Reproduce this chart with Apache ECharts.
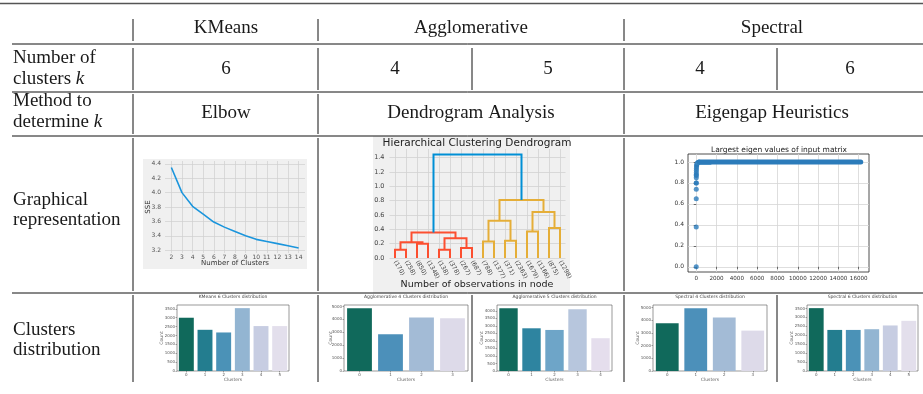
<!DOCTYPE html>
<html>
<head>
<meta charset="utf-8">
<script src="https://cdn.jsdelivr.net/npm/echarts@6/dist/echarts.min.js"></script>
<style>
  html, body { margin: 0; padding: 0; background: #fff; }
  #chart { width: 923px; height: 394px; }
</style>
</head>
<body>
<div id="chart"></div>
<script>
// ---- table text ----
const headerMethods = ['KMeans', 'Agglomerative', 'Spectral'];
const clusterNumbers = ['6', '4', '5', '4', '6'];
const determineMethods = ['Elbow', 'Dendrogram Analysis', 'Eigengap Heuristics'];
const rowLabels = [
  ['Number of', 'clusters {i|k}'],
  ['Method to', 'determine {i|k}'],
  ['Graphical', 'representation'],
  ['Clusters', 'distribution']
];

// ---- elbow curve (KMeans) ----
const elbowK = [2, 3, 4, 5, 6, 7, 8, 9, 10, 11, 12, 13, 14];
const elbowSSE = [4.35, 4.00, 3.81, 3.70, 3.59, 3.52, 3.46, 3.40, 3.35, 3.32, 3.29, 3.26, 3.23];
const elbowYTicks = [3.2, 3.4, 3.6, 3.8, 4.0, 4.2, 4.4];

// ---- dendrogram (Agglomerative) ----
const leafLabels = ['(170)', '(258)', '(850)', '(1348)', '(138)', '(378)', '(267)', '(687)',
  '(788)', '(1377)', '(371)', '(2363)', '(1679)', '(1166)', '(875)', '(1298)'];
// [left node, right node, merge height, colour group]; leaves are 0..15, merges become 16, 17, ...
const dendroMerges = [
  [0, 1, 0.115, 0], [2, 3, 0.20, 0], [16, 17, 0.22, 0],
  [4, 5, 0.115, 0], [6, 7, 0.14, 0], [19, 20, 0.275, 0], [18, 21, 0.355, 0],
  [8, 9, 0.23, 1], [10, 11, 0.24, 1], [23, 24, 0.52, 1],
  [12, 13, 0.37, 1], [14, 15, 0.42, 1], [26, 27, 0.64, 1], [25, 28, 0.81, 1],
  [22, 29, 1.445, 2]
];
const dendroYTicks = [0, 0.2, 0.4, 0.6, 0.8, 1.0, 1.2, 1.4];
const dendroColors = ['#fc4f30', '#e5ae38', '#008fd5'];

// ---- eigenvalues (Spectral) ----
const eigenHead = [[0, 0.0], [1, 0.38], [2, 0.65], [3, 0.74], [4, 0.80], [5, 0.80], [6, 0.85],
  [7, 0.87], [8, 0.88], [10, 0.90], [14, 0.92], [20, 0.94], [30, 0.96], [45, 0.97],
  [70, 0.98], [110, 0.99], [180, 0.995], [260, 1.0]];
const eigenPlateau = [[300, 1.0], [16200, 1.0]];
const eigenShoulder = [[0, 0.985], [1400, 0.985]];
const eigenXTicks = [0, 2000, 4000, 6000, 8000, 10000, 12000, 14000, 16000];
const eigenYTicks = [0, 0.2, 0.4, 0.6, 0.8, 1.0];

// ---- cluster size distributions ----
const kmeans6Labels = ['0', '1', '2', '3', '4', '5'];
const kmeans6Counts = [3000, 2320, 2170, 3540, 2530, 2530];
const kmeans6Ticks = [0, 500, 1000, 1500, 2000, 2500, 3000, 3500];

const agglo4Labels = ['0', '1', '2', '3'];
const agglo4Counts = [4870, 2850, 4150, 4090];
const agglo4Ticks = [0, 1000, 2000, 3000, 4000, 5000];

const agglo5Labels = ['0', '1', '2', '3', '4'];
const agglo5Counts = [4180, 2840, 2730, 4110, 2180];
const agglo5Ticks = [0, 500, 1000, 1500, 2000, 2500, 3000, 3500, 4000];

const spectral4Labels = ['0', '1', '2', '3'];
const spectral4Counts = [3760, 4950, 4210, 3180];
const spectral4Ticks = [0, 1000, 2000, 3000, 4000, 5000];

const spectral6Labels = ['0', '1', '2', '3', '4', '5'];
const spectral6Counts = [3520, 2300, 2300, 2340, 2550, 2810];
const spectral6Ticks = [0, 500, 1000, 1500, 2000, 2500, 3000, 3500];

const barTitles = ['KMeans 6 Clusters distribution', 'Agglomerative 4 Clusters distribution',
  'Agglomerative 5 Clusters distribution', 'Spectral 4 Clusters distribution',
  'Spectral 6 Clusters distribution'];

const palette6 = ['#10695b', '#237d8f', '#4b92b7', '#93b5d2', '#c7cde2', '#e3dfec'];
const palette4 = ['#10695b', '#4c90ba', '#a3bbd6', '#dddae9'];
const palette5 = ['#10695b', '#2e84a0', '#6ea5c8', '#b7c6dd', '#e5deed'];

// ---------------------------------------------------------------
const serif = 'Liberation Serif, DejaVu Serif, serif';
const sans = 'DejaVu Sans, sans-serif';
const FS = 19;
const plain = v => String(v);

const graphics = [];
function hline(x1, x2, y, w, c) {
  graphics.push({ type: 'line', z: 50, shape: { x1: x1, y1: y, x2: x2, y2: y },
    style: { stroke: c || '#111', lineWidth: w || 1 } });
}
function vline(x, y1, y2) {
  graphics.push({ type: 'line', z: 50, shape: { x1: x, y1: y1, x2: x, y2: y2 },
    style: { stroke: '#111', lineWidth: 1 } });
}
function text(str, x, y, opt) {
  opt = opt || {};
  graphics.push({
    type: 'text', z: 50, x: x, y: y, rotation: opt.rotation || 0,
    style: {
      text: str, fill: opt.color || '#1a1a1a',
      font: (opt.weight || 'normal') + ' ' + (opt.size || FS) + 'px ' + (opt.family || serif),
      align: opt.align || 'center', verticalAlign: 'middle',
      rich: { i: { fontStyle: 'italic', fontSize: opt.size || FS, fontFamily: opt.family || serif, fill: opt.color || '#1a1a1a' } }
    }
  });
}
function rect(x, y, w, h, c) {
  graphics.push({ type: 'rect', z: -10, shape: { x: x, y: y, width: w, height: h }, style: { fill: c } });
}

// rules
hline(0, 923, 3.5, 1.6, '#555');
hline(12, 923, 44);
hline(12, 923, 92);
hline(12, 923, 136);
hline(12, 923, 293);

// vertical rules per row
[133, 318, 624].forEach(x => vline(x, 19, 41));
[133, 318, 472, 624, 777].forEach(x => vline(x, 48, 90));
[133, 318, 624].forEach(x => vline(x, 94, 134));
[133, 318, 624].forEach(x => vline(x, 138, 291));
[133, 318, 472, 624, 777].forEach(x => vline(x, 295, 382));

// header
const headerX = [226, 471, 772];
headerMethods.forEach((t, i) => text(t, headerX[i], 28));
const numX = [226, 395, 548, 700, 850];
clusterNumbers.forEach((t, i) => text(t, numX[i], 69));
determineMethods.forEach((t, i) => text(t, headerX[i], 113));
const rowLabelY = [[58, 79], [101, 122], [200, 220], [330, 350]];
rowLabels.forEach((pair, r) => {
  text(pair[0], 13, rowLabelY[r][0], { align: 'left' });
  text(pair[1], 13, rowLabelY[r][1], { align: 'left' });
});

// panel backgrounds and chart captions
rect(143, 159, 164, 110, '#f0f0f0');
text('Number of Clusters', 235, 263.5, { size: 7, family: sans, color: '#333' });
text('SSE', 148, 207, { size: 7, family: sans, color: '#333', rotation: Math.PI / 2 });

rect(373, 136, 197, 157, '#f0f0f0');
text('Hierarchical Clustering Dendrogram', 477, 143, { size: 10.5, family: sans, color: '#222' });
text('Number of observations in node', 477, 285, { size: 9.5, family: sans, color: '#222' });

text('Largest eigen values of input matrix', 779, 150, { size: 7.5, family: sans, color: '#222' });

// ---- build the cluster-size bar charts ----
const barLayouts = [
  { left: 177, width: 112, nameX: 162 },
  { left: 344, width: 124, nameX: 331 },
  { left: 497, width: 115, nameX: 482 },
  { left: 653, width: 114, nameX: 638 },
  { left: 807, width: 111, nameX: 792 }
];
const barData = [
  [kmeans6Labels, kmeans6Counts, kmeans6Ticks, palette6],
  [agglo4Labels, agglo4Counts, agglo4Ticks, palette4],
  [agglo5Labels, agglo5Counts, agglo5Ticks, palette5],
  [spectral4Labels, spectral4Counts, spectral4Ticks, palette4],
  [spectral6Labels, spectral6Counts, spectral6Ticks, palette6]
];

const grids = [
  { left: 165, top: 161, width: 140, height: 92 },       // elbow
  { left: 389.5, top: 149, width: 176, height: 109 },    // dendrogram
  { left: 688, top: 154, width: 181, height: 118, show: true, borderColor: '#222', borderWidth: 0.8, backgroundColor: '#fff' } // eigen
];
const xAxes = [
  { gridIndex: 0, type: 'value', min: 1.4, max: 14.6,
    axisLine: { show: false }, axisTick: { show: false, customValues: elbowK },
    axisLabel: { customValues: elbowK, formatter: plain, fontSize: 6, color: '#555', margin: 1.5, fontFamily: sans },
    splitLine: { lineStyle: { color: '#cfcfcf', width: 0.7 } } },
  { gridIndex: 1, type: 'value', min: -0.5, max: 15.5,
    axisLine: { show: false }, axisTick: { show: false, customValues: leafLabels.map((_, i) => i) },
    axisLabel: { customValues: leafLabels.map((_, i) => i), formatter: v => leafLabels[v],
      rotate: -60, fontSize: 6, color: '#444', margin: 3, fontFamily: sans },
    splitLine: { lineStyle: { color: '#d2d2d2', width: 0.8 } } },
  { gridIndex: 2, type: 'value', min: -810, max: 17010,
    axisLine: { show: false }, axisTick: { show: true, length: 2.5, customValues: eigenXTicks, lineStyle: { color: '#333', width: 0.7 } },
    axisLabel: { customValues: eigenXTicks, formatter: plain, fontSize: 5.6, color: '#333', margin: 4,
      fontFamily: sans, hideOverlap: false, showMinLabel: true, showMaxLabel: true },
    splitLine: { lineStyle: { color: '#d6d6d6', width: 0.8 } } }
];
const yAxes = [
  { gridIndex: 0, type: 'value', min: 3.16, max: 4.44,
    axisLine: { show: false }, axisTick: { show: false, customValues: elbowYTicks },
    axisLabel: { customValues: elbowYTicks, formatter: v => v.toFixed(1), fontSize: 6, color: '#555', margin: 4, fontFamily: sans },
    splitLine: { lineStyle: { color: '#cfcfcf', width: 0.7 } } },
  { gridIndex: 1, type: 'value', min: 0, max: 1.52,
    axisLine: { show: false }, axisTick: { show: false, customValues: dendroYTicks },
    axisLabel: { customValues: dendroYTicks, formatter: v => v.toFixed(1), fontSize: 6.5, color: '#444', margin: 5, fontFamily: sans },
    splitLine: { lineStyle: { color: '#d2d2d2', width: 0.8 } } },
  { gridIndex: 2, type: 'value', min: -0.05, max: 1.076,
    axisLine: { show: false }, axisTick: { show: true, length: 2.5, customValues: eigenYTicks, lineStyle: { color: '#333', width: 0.7 } },
    axisLabel: { customValues: eigenYTicks, formatter: v => v.toFixed(1), fontSize: 6, color: '#333', margin: 4, fontFamily: sans },
    splitLine: { lineStyle: { color: '#d6d6d6', width: 0.8 } } }
];

// dendrogram node positions from the merge list
const nodeX = leafLabels.map((_, i) => i);
const nodeY = leafLabels.map(() => 0);
const dendroSegs = dendroMerges.map(m => {
  const seg = [nodeX[m[0]], nodeY[m[0]], nodeX[m[1]], nodeY[m[1]], m[2], m[3]];
  nodeX.push((nodeX[m[0]] + nodeX[m[1]]) / 2);
  nodeY.push(m[2]);
  return seg;
});

const series = [
  { type: 'line', xAxisIndex: 0, yAxisIndex: 0, data: elbowK.map((k, i) => [k, elbowSSE[i]]),
    showSymbol: false, lineStyle: { color: '#1b95dc', width: 1.6 }, silent: true },
  { type: 'custom', xAxisIndex: 1, yAxisIndex: 1, data: dendroSegs, clip: false, silent: true,
    encode: { x: [0, 2], y: [1, 3, 4] },
    renderItem: (params, api) => {
      const xa = api.value(0), ya = api.value(1), xb = api.value(2), yb = api.value(3), h = api.value(4);
      const c = dendroColors[api.value(5)];
      return { type: 'polyline',
        shape: { points: [api.coord([xa, ya]), api.coord([xa, h]), api.coord([xb, h]), api.coord([xb, yb])] },
        style: { stroke: c, lineWidth: 2, fill: null } };
    } },
  { type: 'line', xAxisIndex: 2, yAxisIndex: 2, data: eigenShoulder, showSymbol: false, silent: true,
    lineStyle: { color: '#3a86c0', width: 2.5, cap: 'round' } },
  { type: 'line', xAxisIndex: 2, yAxisIndex: 2, data: eigenPlateau, showSymbol: false, silent: true,
    lineStyle: { color: '#2b7bba', width: 5, cap: 'round' } },
  { type: 'scatter', xAxisIndex: 2, yAxisIndex: 2, data: eigenHead, symbolSize: 5, silent: true,
    itemStyle: { color: '#2b7bba' } }
];

barData.forEach((d, n) => {
  const L = barLayouts[n];
  const gi = grids.length;
  const top = 305, height = 66;
  const maxV = Math.max.apply(null, d[1]) * 1.05;
  grids.push({ left: L.left, top: top, width: L.width, height: height,
    show: true, borderColor: '#555', borderWidth: 0.6, backgroundColor: '#fff' });
  xAxes.push({ gridIndex: gi, type: 'category', data: d[0],
    axisLine: { show: false }, axisTick: { show: true, alignWithLabel: true, length: 1.5, lineStyle: { color: '#555', width: 0.5 } },
    axisLabel: { fontSize: 4, color: '#555', margin: 2, fontFamily: sans }, splitLine: { show: false } });
  yAxes.push({ gridIndex: gi, type: 'value', min: 0, max: maxV,
    axisLine: { show: false }, axisTick: { show: true, length: 1.5, customValues: d[2], lineStyle: { color: '#555', width: 0.5 } },
    axisLabel: { customValues: d[2], formatter: plain, fontSize: 4, color: '#555', margin: 2, fontFamily: sans }, splitLine: { show: false } });
  series.push({ type: 'bar', xAxisIndex: gi, yAxisIndex: gi, data: d[1], barCategoryGap: '20%', silent: true,
    itemStyle: { color: p => d[3][p.dataIndex] } });
  text(barTitles[n], L.left + L.width / 2, 297, { size: 4.5, family: sans, color: '#444' });
  text('Clusters', L.left + L.width / 2, 379.5, { size: 4.5, family: sans, color: '#666' });
  text('Count', L.nameX, 338, { size: 4.5, family: sans, color: '#666', rotation: Math.PI / 2 });
});

grids.forEach(g => { g.outerBoundsMode = 'none'; });

const chart = echarts.init(document.getElementById('chart'), null, { renderer: 'canvas' });
chart.setOption({
  animation: false,
  backgroundColor: '#fff',
  grid: grids,
  xAxis: xAxes,
  yAxis: yAxes,
  series: series,
  graphic: { elements: graphics }
});
</script>
</body>
</html>
